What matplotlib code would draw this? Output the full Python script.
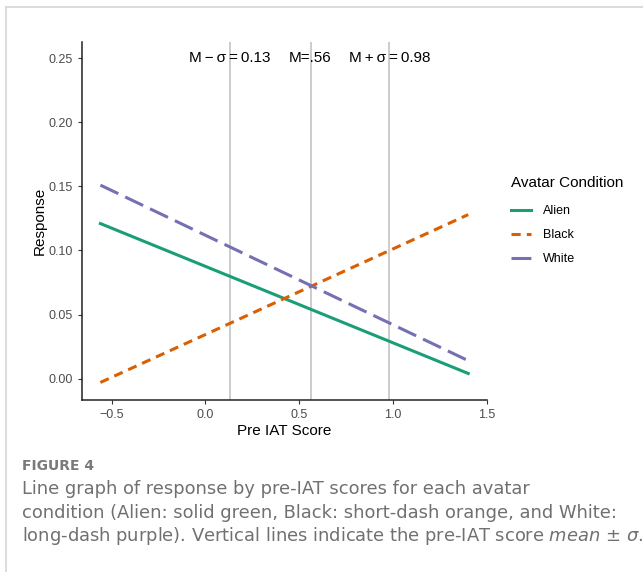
import matplotlib
matplotlib.use("Agg")
import matplotlib.pyplot as plt
from matplotlib.lines import Line2D

plt.rcParams['font.family'] = ['Liberation Sans', 'DejaVu Sans']

# fitted lines, end points
iat_x = [-0.56, 1.40]
alien = [0.121, 0.004]
black = [-0.003, 0.128]
white = [0.151, 0.014]
groups = ["Alien", "Black", "White"]

# mean - sd, mean, mean + sd of pre IAT score
marks = [0.13, 0.56, 0.98]
mark_labels = ["M\u2009\u2212\u2009\u03c3\u2009=\u20090.13", "M=.56",
               "M\u2009+\u2009\u03c3\u2009=\u20090.98"]

xticks = [-0.5, 0.0, 0.5, 1.0, 1.5]
yticks = [0.00, 0.05, 0.10, 0.15, 0.20, 0.25]

colors = ["#1B9E77", "#D95F02", "#7570B3"]
styles = ["-", (0, (3, 2)), (0, (6.5, 2.5))]

fig = plt.figure(figsize=(6.43, 5.72), dpi=100)
ax = fig.add_axes([82/643, 1 - 400/572, (487 - 82)/643, (400 - 42)/572])

for m in marks:
    ax.axvline(m, color="#BEBEBE", lw=1.1, zorder=1)

lw = 2.2
for ys, c, s, g in zip([alien, black, white], colors, styles, groups):
    ax.plot(iat_x, ys, color=c, ls=s, lw=lw, label=g, zorder=3)

for m, t in zip(marks, mark_labels):
    ax.text(m, 0.25, t, ha="center", va="center", fontsize=11, color="black")

ax.set_xlim(-0.658, 1.498)
ax.set_ylim(-0.0167, 0.2627)
ax.set_xticks(xticks)
ax.set_yticks(yticks)
ax.set_xticklabels(["\u22120.5", "0.0", "0.5", "1.0", "1.5"])
ax.set_yticklabels(["%.2f" % v for v in yticks])
ax.tick_params(colors="#333333", labelcolor="#4D4D4D", labelsize=9,
               length=3, width=0.8)
ax.set_xlabel("Pre IAT Score", fontsize=11, labelpad=2)
ax.set_ylabel("Response", fontsize=11, labelpad=1)
for side in ["top", "right"]:
    ax.spines[side].set_visible(False)
for side in ["left", "bottom"]:
    ax.spines[side].set_linewidth(1.1)
    ax.spines[side].set_color("#222222")

handles = [Line2D([], [], color=c, ls=s, lw=lw) for c, s in zip(colors, styles)]
leg = fig.legend(handles, groups, loc="upper left",
                 bbox_to_anchor=(500/643, 1 - 165/572), frameon=False,
                 title="Avatar Condition", title_fontsize=11, fontsize=9,
                 handlelength=1.6, handletextpad=0.9, labelspacing=0.95)
leg._legend_box.align = "left"
leg._legend_box.sep = 10.8

# card border
fig.add_artist(Line2D([6/643, 1], [1 - 7/572, 1 - 7/572], color="#D6D6D6", lw=1.2))
fig.add_artist(Line2D([6/643, 6/643], [0, 1 - 7/572], color="#D6D6D6", lw=1.2))

fig.text(22/643, 1 - 466/572, "FIGURE 4", fontsize=10, color="#7A7A7A",
         family="DejaVu Sans", weight="bold", va="center")
caption = ["Line graph of response by pre-IAT scores for each avatar",
           "condition (Alien: solid green, Black: short-dash orange, and White:",
           "long-dash purple). Vertical lines indicate the pre-IAT score $\\mathit{mean}$ \u00b1 $\\mathit{\u03c3}$."]
for i, line in enumerate(caption):
    fig.text(22/643, 1 - (489 + 23.5*i)/572, line, fontsize=12.9, color="#707070",
             family="DejaVu Sans", va="center")

fig.savefig("out.png", dpi=100)
